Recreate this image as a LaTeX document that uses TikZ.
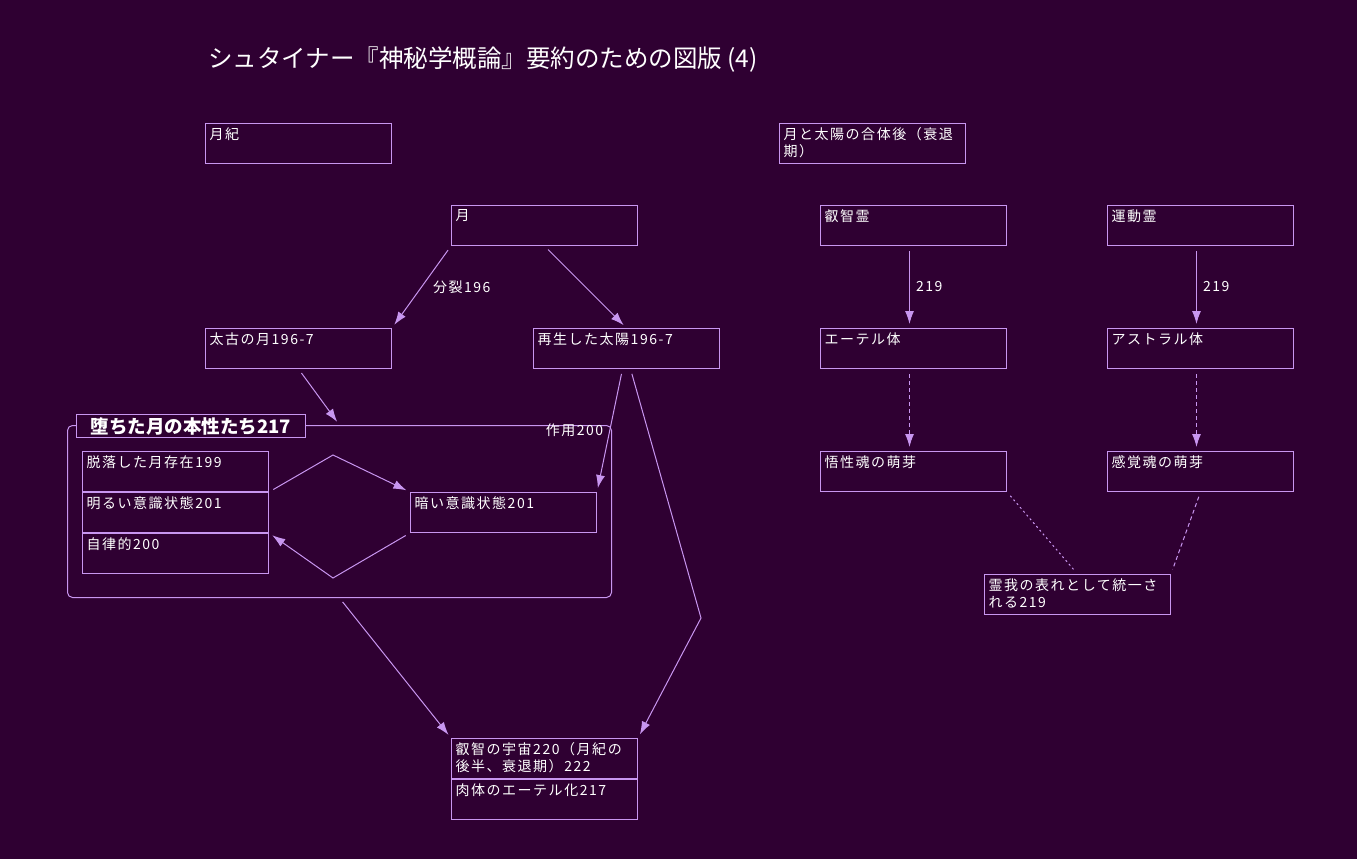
\documentclass[tikz,border=0pt]{standalone}
\usepackage{fontspec}
\usepackage{tikz}
\usetikzlibrary{arrows.meta,positioning,calc}
\newfontfamily\jpfont[LetterSpace=11]{Noto Sans CJK JP}
\newfontfamily\headfont{Noto Sans CJK JP}
\definecolor{bgpurple}{RGB}{47,0,50}
\definecolor{lilac}{RGB}{200,150,240}
\newcommand{\cell}[1]{\parbox[t][32pt][t]{178pt}{\raggedright #1}}

\begin{document}
\begin{tikzpicture}[x=1pt,y=-1pt,
    box/.style={draw=lilac, line width=1pt, anchor=north west, inner sep=4pt,
      text=white, font=\jpfont\fontsize{14}{17}\selectfont},
    lbl/.style={text=white, inner sep=2pt, font=\jpfont\fontsize{14}{17}\selectfont},
    link/.style={draw=lilac, line width=1pt, -{Latex[length=13pt,width=9pt,fill=lilac]},
      shorten <=5pt, shorten >=4pt},
    dlink/.style={link, dash pattern=on 4pt off 3pt},
    tie/.style={draw=lilac, line width=1pt, shorten <=5pt, shorten >=5pt}]
  \fill[bgpurple] (0,0) rectangle (1357,859);
  \useasboundingbox (0,0) rectangle (1357,859);

  \node[anchor=west, inner sep=0, text=white, font=\headfont\fontsize{24.5}{28}\selectfont]
    (title) at (208,60) {シュタイナー『神秘学概論』要約のための図版 (4)};

  % left half
  \node[box] (lunar) at (205,123) {\cell{月紀}};
  \node[box] (moon) at (451,205) {\cell{月}};
  \node[box] (ancient) at (205,328) {\cell{太古の月196-7}};
  \node[box] (sun) at (533,328) {\cell{再生した太陽196-7}};

  \node[draw=lilac, line width=1pt, rounded corners=5pt, anchor=north west,
    minimum width=544pt, minimum height=172pt] (fallen) at (67,425) {};
  \node[draw=lilac, line width=1pt, fill=bgpurple, anchor=north west, inner sep=0,
    minimum width=229pt, minimum height=23pt, text=white,
    font=\headfont\bfseries\fontsize{18.5}{20}\selectfont] (fallentitle) at (76,414) {堕ちた月の本性たち217};

  \node[box] (shed) at (82,451) {\cell{脱落した月存在199}};
  \node[box] (bright) at (82,492) {\cell{明るい意識状態201}};
  \node[box] (auto) at (82,533) {\cell{自律的200}};
  \node[box] (dark) at (410,492) {\cell{暗い意識状態201}};
  \coordinate (upper) at (333,455);
  \coordinate (lower) at (333,578);

  \node[box] (cosmos) at (451,738) {\cell{叡智の宇宙220（月紀の\\後半、衰退期）222}};
  \node[box] (ether) at (451,779) {\cell{肉体のエーテル化217}};
  \coordinate (bend) at (701,618);

  \draw[link] (moon.south west) -- node[lbl, right=9pt, pos=.5] {分裂196} (ancient.north east);
  \draw[link] (moon.south) -- (sun.north);
  \draw[link] (ancient.south) -- (fallen.north);
  \draw[link] ([xshift=-4pt]sun.south) -- node[lbl, left=4pt, pos=.5] {作用200} (dark.north east);
  \draw[link] ([xshift=4pt]sun.south) -- (bend) -- (cosmos.north east);
  \draw[link] (bright.north east) -- (upper) -- (dark.north west);
  \draw[link] (dark.south west) -- (lower) -- (bright.south east);
  \draw[link] (fallen.south) -- (cosmos.north west);

  % right half
  \node[box] (after) at (779,123) {\cell{月と太陽の合体後（衰退\\期）}};
  \node[box] (wisdom) at (820,205) {\cell{叡智霊}};
  \node[box] (motion) at (1107,205) {\cell{運動霊}};
  \node[box] (etheric) at (820,328) {\cell{エーテル体}};
  \node[box] (astral) at (1107,328) {\cell{アストラル体}};
  \node[box] (intellect) at (820,451) {\cell{悟性魂の萌芽}};
  \node[box] (sentient) at (1107,451) {\cell{感覚魂の萌芽}};
  \node[box] (self) at (984,574) {\cell{霊我の表れとして統一さ\\れる219}};

  \draw[link] ([xshift=-4pt]wisdom.south) -- node[lbl, right=4pt, pos=.5] {219} ([xshift=-4pt]etheric.north);
  \draw[link] ([xshift=-4pt]motion.south) -- node[lbl, right=4pt, pos=.5] {219} ([xshift=-4pt]astral.north);
  \draw[dlink] ([xshift=-4pt]etheric.south) -- ([xshift=-4pt]intellect.south |- intellect.north);
  \draw[dlink] ([xshift=-4pt]astral.south) -- ([xshift=-4pt]sentient.south |- sentient.north);
  \draw[tie, dash pattern=on 2pt off 3pt] (intellect.south east) -- (self.north);
  \draw[tie, dash pattern=on 4pt off 3pt] (sentient.south) -- (self.north east);
\end{tikzpicture}
\end{document}
